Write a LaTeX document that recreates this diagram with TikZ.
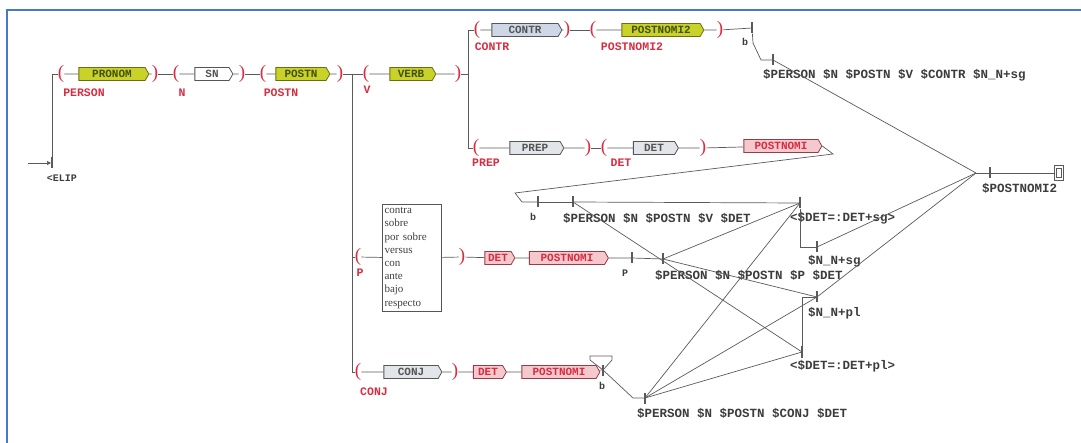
\documentclass[tikz,border=0pt]{standalone}
\usepackage{fontspec}
\setmainfont{Liberation Serif}
\setmonofont{Liberation Mono}
\usetikzlibrary{shapes.symbols,arrows.meta}
\definecolor{frameblue}{RGB}{70,120,210}
\definecolor{yg}{RGB}{200,210,40}
\definecolor{ygline}{RGB}{105,110,20}
\definecolor{ygtext}{RGB}{70,80,10}
\definecolor{boxgray}{RGB}{226,229,233}
\definecolor{boxline}{RGB}{85,85,85}
\definecolor{contrblue}{RGB}{205,215,230}
\definecolor{pinkfill}{RGB}{245,200,206}
\definecolor{redline}{RGB}{150,60,70}
\definecolor{redtext}{RGB}{215,45,65}
\definecolor{wire}{RGB}{90,90,90}
\definecolor{outgray}{RGB}{60,60,60}
\begin{document}
\begin{tikzpicture}[x=1pt, y=-1pt,
    paren/.style={text=redtext, font=\fontsize{19}{19}\selectfont, inner sep=0pt},
    varname/.style={text=redtext, font=\ttfamily\bfseries\fontsize{11.5}{11.5}\selectfont, inner sep=0pt},
    callbox/.style={signal, signal to=east, signal pointer angle=120, draw=boxline, fill=boxgray, line width=0.8pt, minimum height=13pt, inner sep=1.5pt, font=\ttfamily\bfseries\fontsize{11}{11}\selectfont, text=boxline},
    ygbox/.style={callbox, fill=yg, draw=ygline, text=ygtext},
    bluebox/.style={callbox, fill=contrblue},
    redbox/.style={callbox, fill=pinkfill, draw=redline, text=redtext},
    tick/.style={rectangle, fill=wire, minimum width=1.6pt, minimum height=11pt, inner sep=0pt},
    outtext/.style={anchor=west, inner sep=0pt, text=outgray, font=\ttfamily\bfseries\fontsize{12.5}{12.5}\selectfont},
    smalltext/.style={inner sep=0pt, text=outgray, font=\ttfamily\bfseries\fontsize{10}{10}\selectfont},
    listbox/.style={draw=boxline, line width=0.8pt, text width=55pt, align=left, inner sep=2pt, minimum height=107pt, font=\fontsize{11}{13.2}\selectfont, text=black!75},
    final/.style={draw=wire, line width=0.8pt, double, double distance=1.5pt, minimum width=7pt, minimum height=12pt, inner sep=0pt}]
  \useasboundingbox (0,0) rectangle (1081,443);
  \draw[frameblue, line width=2pt] (7,443) -- (7,10) -- (1081,10);
  \draw
    (28,163) coordinate (start)
    (52,163) node[tick] (init) {}
    (62,178) node[smalltext] (elip) {<ELIP}
    (61,74) node[paren] (o1) {(}
    (84,93) node[varname] (v1) {PERSON}
    (112,74) node[ygbox, minimum width=70pt] (b1) {PRONOM}
    (155,74) node[paren] (c1) {)}
    (176,74) node[paren] (o2) {(}
    (182,93) node[varname] (v2) {N}
    (212,74) node[callbox, fill=white, minimum width=38pt] (b2) {SN}
    (242,74) node[paren] (c2) {)}
    (263,74) node[paren] (o3) {(}
    (281,93) node[varname] (v3) {POSTN}
    (301,74) node[ygbox, minimum width=54pt] (b3) {POSTN}
    (340,74) node[paren] (c3) {)}
    (352,74) coordinate (fan1)
    (366,74) node[paren] (o4) {(}
    (367,90) node[varname] (v4) {V}
    (411,74) node[ygbox, minimum width=46pt] (b4) {VERB}
    (458,74) node[paren] (c4) {)}
    (468,74) coordinate (fan2)
    (477,30) node[paren] (o5) {(}
    (492,47) node[varname] (v5) {CONTR}
    (525,30) node[bluebox, minimum width=70pt] (b5) {CONTR}
    (567,30) node[paren] (c5) {)}
    (593,30) node[paren] (o6) {(}
    (632,47) node[varname] (v6) {POSTNOMI2}
    (661,30) node[ygbox, minimum width=82pt] (b6) {POSTNOMI2}
    (720,30) node[paren] (c6) {)}
    (752,28) node[tick] (t1) {}
    (745,42) node[smalltext] (e1) {b}
    (753,43) coordinate (jag1)
    (761,60) coordinate (jag2)
    (773,60) node[tick] (t2) {}
    (763,75) node[outtext] (out1) {\$PERSON \$N \$POSTN \$V \$CONTR \$N\_N+sg}
    (476,148) node[paren] (o7) {(}
    (486,163) node[varname] (v7) {PREP}
    (535,148) node[callbox, minimum width=54pt] (b7) {PREP}
    (588,148) node[paren] (c7) {)}
    (604,148) node[paren] (o8) {(}
    (621,163) node[varname] (v8) {DET}
    (654,148) node[callbox, minimum width=45pt] (b8) {DET}
    (703,148) node[paren] (c8) {)}
    (781,146) node[redbox, minimum width=78pt] (b9) {POSTNOMI}
    (833,154) coordinate (back1)
    (515,193) coordinate (back2)
    (522,202) coordinate (back3)
    (538,202) node[tick] (t3) {}
    (533,217) node[smalltext] (e2) {b}
    (573,202) node[tick] (t4) {}
    (563,218) node[outtext] (out2) {\$PERSON \$N \$POSTN \$V \$DET}
    (358,257) node[paren] (o9) {(}
    (360,273) node[varname] (v9) {P}
    (412,258) node[listbox] (prep) {contra\\sobre\\por sobre\\versus\\con\\ante\\bajo\\respecto}
    (462,257) node[paren] (c9) {)}
    (498,258) node[redbox, minimum width=30pt] (b10) {DET}
    (567,258) node[redbox, minimum width=79pt] (b11) {POSTNOMI}
    (632,258) node[tick] (t5) {}
    (625,273) node[smalltext] (e3) {P}
    (663,259) node[tick] (t6) {}
    (655,275) node[outtext] (out3) {\$PERSON \$N \$POSTN \$P \$DET}
    (358,372) node[paren] (o10) {(}
    (374,392) node[varname] (v10) {CONJ}
    (411,372) node[callbox, minimum width=58pt] (b12) {CONJ}
    (455,372) node[paren] (c10) {)}
    (488,372) node[redbox, minimum width=33pt] (b13) {DET}
    (559,372) node[redbox, minimum width=78pt] (b14) {POSTNOMI}
    (603,370) node[tick] (t7) {}
    (602,386) node[smalltext] (e4) {b}
    (612,360) coordinate (loop1)
    (612,356) coordinate (loop2)
    (590,356) coordinate (loop3)
    (590,360) coordinate (loop4)
    (633,398) coordinate (jag3)
    (645,398) node[tick] (t8) {}
    (637,413) node[outtext] (out4) {\$PERSON \$N \$POSTN \$CONJ \$DET}
    (800,203) node[tick] (tA) {}
    (790,218) node[outtext] (out5) {<\$DET=:DET+sg>}
    (817,247) node[tick] (tB) {}
    (808,261) node[outtext] (out6) {\$N\_N+sg}
    (817,297) node[tick] (tC) {}
    (808,313) node[outtext] (out7) {\$N\_N+pl}
    (802,352) node[tick] (tD) {}
    (790,366) node[outtext] (out8) {<\$DET=:DET+pl>}
    (976,173) coordinate (join)
    (990,173) node[tick] (tJ) {}
    (982,188) node[outtext] (out9) {\$POSTNOMI2}
    (1059,173) node[final] (fin) {};
  \begin{scope}[draw=wire, line width=0.7pt]
    \draw[-{Triangle[length=4pt,width=4pt]}] (start) to (init);
    \draw (init) |- (o1);
    \draw (o1) to (b1);
    \draw (b1) to (c1);
    \draw (c1) to (o2);
    \draw (o2) to (b2);
    \draw (b2) to (c2);
    \draw (c2) to (o3);
    \draw (o3) to (b3);
    \draw (b3) to (c3);
    \draw (c3) to (fan1);
    \draw (fan1) to (o4);
    \draw (fan1) |- (o9);
    \draw (fan1) |- (o10);
    \draw (o4) to (b4);
    \draw (b4) to (c4);
    \draw (c4) to (fan2);
    \draw (fan2) |- (o5);
    \draw (fan2) |- (o7);
    \draw (o5) to (b5);
    \draw (b5) to (c5);
    \draw (c5) to (o6);
    \draw (o6) to (b6);
    \draw (b6) to (c6);
    \draw (c6) to (t1);
    \draw (t1) -- (jag1) -- (jag2) -- (t2);
    \draw (t2) to (join);
    \draw (o7) to (b7);
    \draw (b7) to (c7);
    \draw (c7) to (o8);
    \draw (o8) to (b8);
    \draw (b8) to (c8);
    \draw (c8) to (b9);
    \draw (b9.east) -- (back1) -- (back2) -- (back3) -- (t3);
    \draw (t3) to (t4);
    \draw (t4) to (tA);
    \draw (t4) to (tD);
    \draw (o9) to (prep);
    \draw (prep) to (c9);
    \draw (c9) to (b10);
    \draw (b10) to (b11);
    \draw (b11) to (t5);
    \draw (t5) to (t6);
    \draw (t6) to (tA);
    \draw (t6) to (tC);
    \draw (o10) to (b12);
    \draw (b12) to (c10);
    \draw (c10) to (b13);
    \draw (b13) to (b14);
    \draw (b14) to (t7);
    \draw (t7) -- (loop1) -- (loop2) -- (loop3) -- (loop4) -- (t7);
    \draw (t7) -- (jag3) -- (t8);
    \draw (t8) to (tA);
    \draw (t8) to (tC);
    \draw (t8) to (tD);
    \draw (tA) |- (tB);
    \draw (tD) |- (tC);
    \draw (tB) to (join);
    \draw (tC) to (join);
    \draw (join) to (tJ);
    \draw (tJ) to (fin);
  \end{scope}
\end{tikzpicture}
\end{document}
